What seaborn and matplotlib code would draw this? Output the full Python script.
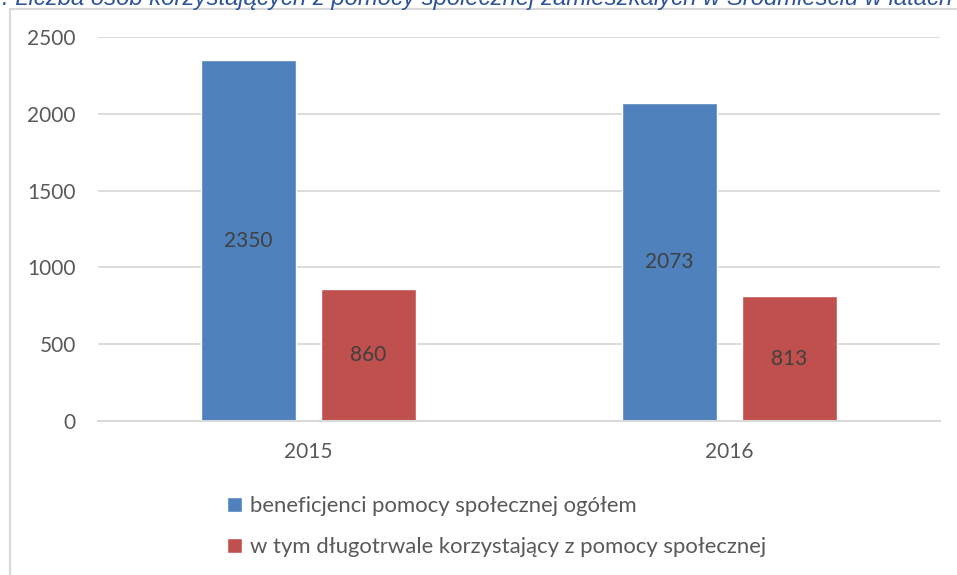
import matplotlib
matplotlib.use('Agg')
import matplotlib.pyplot as plt
import pandas as pd
import seaborn as sns
from matplotlib.patches import Patch, Rectangle

# Data
years = ['2015', '2016']
series = ['beneficjenci pomocy społecznej ogółem',
          'w tym długotrwale korzystający z pomocy społecznej']
total = [2350, 2073]
long_term = [860, 813]
colors = ['#4F81BD', '#C0504D']
title = '. Liczba osób korzystających z pomocy społecznej zamieszkałych w Śródmieściu w latach'

df = pd.DataFrame({
    'Rok': years * 2,
    'Seria': [series[0]] * 2 + [series[1]] * 2,
    'Liczba': total + long_term,
})

sns.set_style('white')
plt.rcParams['font.family'] = ['Lato', 'DejaVu Sans']

fig = plt.figure(figsize=(9.57, 5.75), dpi=100)
ax = fig.add_axes([98 / 957, 1 - 421 / 575, 842 / 957, 384 / 575])

sns.barplot(data=df, x='Rok', y='Liczba', hue='Seria', hue_order=series,
            palette=colors, width=0.568, gap=0.205, saturation=1,
            legend=False, ax=ax)

# data labels in the middle of bars
for cont in ax.containers:
    ax.bar_label(cont, label_type='center', fontsize=15, color='#404040')

ax.set_ylim(0, 2500)
ax.set_xlim(-0.5, 1.5)
ax.set_yticks(range(0, 2501, 500))
ax.yaxis.grid(True, color='#D9D9D9', linewidth=1.3)
ax.set_axisbelow(True)
for s in ['top', 'right', 'left']:
    ax.spines[s].set_visible(False)
ax.spines['bottom'].set_color('#D9D9D9')
ax.spines['bottom'].set_linewidth(1.5)
ax.tick_params(axis='both', length=0, labelsize=15, colors='#595959')
ax.tick_params(axis='y', pad=16)
ax.tick_params(axis='x', pad=15)
ax.set_xlabel('')
ax.set_ylabel('')

# legend
handles = [Patch(facecolor=c) for c in colors]
fig.legend(handles, series, loc='center left', bbox_to_anchor=(227 / 957, 1 - 526.5 / 575),
           frameon=False, fontsize=15.9, labelcolor='#595959', handlelength=0.66,
           handleheight=0.66, handletextpad=0.4, labelspacing=0.95,
           borderpad=0, borderaxespad=0)

# chart border
fig.patches.append(Rectangle((10 / 957, -0.1), 1.2, 1.1 - 9 / 575, transform=fig.transFigure,
                             fill=False, edgecolor='#D9D9D9', linewidth=1.5, figure=fig))

# clipped caption at the top
fig.text(2 / 957, 1 - 5 / 575, title, fontsize=17.2, style='italic', color='#2F5597',
         family=['Liberation Sans', 'DejaVu Sans'], ha='left', va='baseline')

fig.savefig('out.png', dpi=100)
